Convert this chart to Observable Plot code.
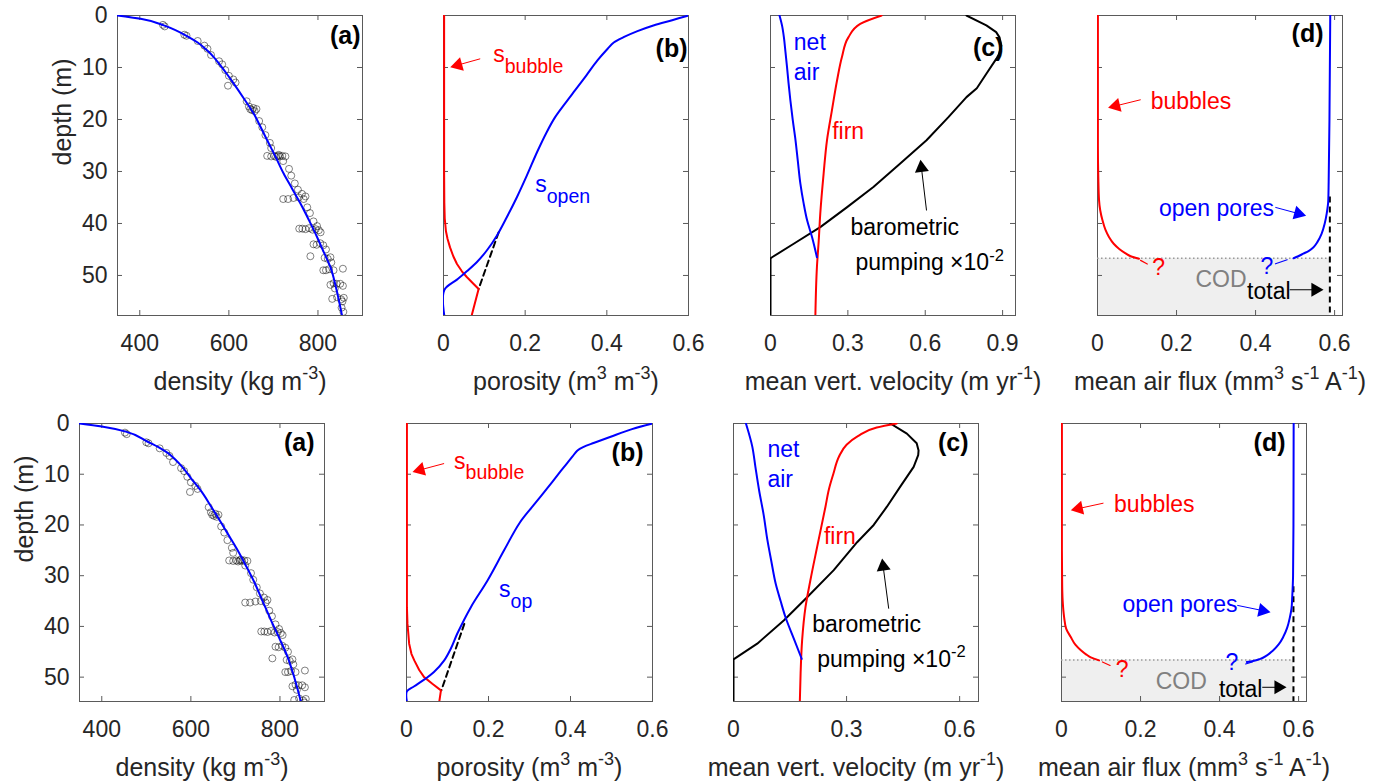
<!DOCTYPE html>
<html><head><meta charset="utf-8">
<script src="https://cdn.jsdelivr.net/npm/d3@7"></script>
<script src="https://cdn.jsdelivr.net/npm/@observablehq/plot@0.6"></script>
<style>
body{margin:0;background:#fff;}
#root{position:relative;width:1391px;height:784px;overflow:hidden;background:#fff;}
.panel{position:absolute;}
</style></head><body><div id="root"></div>
<script>
// ---------------- DATA ----------------
// measured density points [density kg m-3, depth m]
const densityObs = [
 [452,1.8],[456,2.1],[500,3.7],[505,3.9],[530,4.9],[545,5.8],[552,6.4],[560,7.6],[578,8.8],[585,9.4],
 [592,10.5],[600,11.6],[610,12.3],[615,12.9],[598,13.5],[640,16.5],[645,17.5],[648,18.0],[652,18.2],
 [658,18.4],[662,18.0],[655,17.8],[668,20.3],[675,21.5],[682,23.0],[692,24.5],[695,25.5],
 [686,27.0],[695,27.1],[702,27.0],[706,27.2],[710,27.0],[715,27.1],[720,27.0],[727,27.1],[712,26.8],[722,28.0],
 [735,29.5],[740,30.8],[748,32.3],[755,33.5],
 [722,35.3],[733,35.3],[745,35.1],[757,35.0],[768,35.3],[772,34.8],[764,34.3],
 [776,36.9],[782,38.0],[790,39.6],
 [758,41.0],[765,41.0],[772,41.1],[780,40.9],[788,41.2],[795,41.1],[802,41.3],[806,41.7],[798,40.5],
 [790,44.0],[797,44.1],[805,43.8],[812,44.2],[818,45.0],[783,46.3],
 [815,46.6],[822,46.8],[828,46.5],[830,47.5],
 [812,49.0],[818,49.0],[825,48.8],[835,49.0],[856,48.7],
 [828,51.8],[835,51.5],[842,51.6],[850,51.6],[856,52.0],[838,52.5],
 [832,54.5],[843,54.2],[852,54.6],[858,54.3],[855,55.0],[853,56.2],[857,57.0]
];
const densityFitTop = [[350,0],[402,0.64],[454,1.9],[480,2.8],[506,3.95],[530,5.2],[551,6.7],[566,8.0],[581,9.6],[596,11.3],[611,13.1],[634,16.0],[656,18.9],[671,21.4],[686,24],[705,27.2],[723,30.4],[742,33.3],[761,36.2],[780,39.4],[798,42.6],[813,45.5],[828,48.4],[841,52.5],[854,57.7]];
const densityFitBottom = [[350,0],[400,0.6],[454,1.6],[503,3.6],[530,4.8],[548,5.8],[565,7.1],[581,8.6],[602,11],[622,13.2],[645,16.3],[667,19.4],[686,22.2],[705,25],[724,28.1],[742,31.2],[761,35],[780,38.8],[799,42.4],[817,46],[833,50.3],[847,54.8]];

// porosity [m3 m-3, depth]
const sOpenTop = [[0.6,0],[0.56,0.9],[0.514,1.92],[0.475,3.0],[0.441,4.17],[0.417,5.2],[0.402,6.4],[0.377,8.65],[0.35,11.5],[0.322,14.4],[0.298,16.9],[0.273,19.6],[0.253,22.4],[0.229,26.3],[0.204,30.8],[0.18,34.9],[0.155,38.8],[0.131,42.3],[0.106,45.2],[0.082,47.4],[0.057,49.2],[0.033,50.8],[0.002,52.8],[0.002,57.7]];
const sBubbleTop = [[0.0015,0],[0.0015,30],[0.002,36],[0.003,39],[0.006,41.5],[0.01,43],[0.016,44.6],[0.024,46.3],[0.033,47.8],[0.045,49.2],[0.057,50.3],[0.072,51.5],[0.086,52.6],[0.069,57.7]];
const sOpenExtrapTop = [[0.135,41.7],[0.086,52.6]];
const sOpenBottom = [[0.6,0],[0.55,1.1],[0.498,2.6],[0.458,3.8],[0.432,4.6],[0.417,5.3],[0.405,6.5],[0.39,8.0],[0.376,9.4],[0.343,12.8],[0.31,16.1],[0.275,19.7],[0.238,25],[0.198,30.9],[0.157,36.2],[0.124,41.4],[0.108,44.4],[0.092,46.7],[0.067,49],[0.043,50.5],[0.019,51.8],[0.001,52.8],[0.001,54.8]];
const sBubbleBottom = [[0.001,0],[0.001,36.2],[0.0024,39.5],[0.0065,43.4],[0.012,45.4],[0.019,46.7],[0.031,48.6],[0.043,50],[0.063,51.3],[0.084,52.6],[0.08,54.8]];
const sOpenExtrapBottom = [[0.141,39.5],[0.085,52.6]];

// mean vertical velocity [m yr-1, depth]
const baroTop = [[0.76,0],[0.837,1.9],[0.875,3.2],[0.888,4.2],[0.895,5.8],[0.885,7.5],[0.876,8.3],[0.837,11.2],[0.8,14],[0.76,15.7],[0.689,19.6],[0.605,24],[0.502,28.5],[0.399,33],[0.296,36.9],[0.193,40.7],[0.09,43.9],[0.006,46.5],[0,46.7],[0,57.7]];
const firnTop = [[0.431,0],[0.348,1.6],[0.302,4.2],[0.277,8.0],[0.258,12.5],[0.238,18.3],[0.219,24],[0.206,30.4],[0.193,38.1],[0.187,43.3],[0.18,48.4],[0.174,57.7]];
const netAirTop = [[0.035,0],[0.045,2],[0.052,4.2],[0.058,7],[0.064,9.9],[0.07,13],[0.077,16.3],[0.086,20],[0.097,24],[0.106,28],[0.116,32.4],[0.128,36],[0.142,39.4],[0.161,42.6],[0.18,46.5]];
const baroBottom = [[0.416,0],[0.46,2],[0.486,3.9],[0.491,5.3],[0.49,6.25],[0.478,8.55],[0.442,12.5],[0.407,16.4],[0.372,20],[0.328,23.4],[0.266,28.9],[0.196,34.2],[0.134,38.8],[0.063,43.4],[0.002,46.4],[0,46.5],[0,54.8]];
const firnBottom = [[0.433,0],[0.38,0.8],[0.33,2.5],[0.3,4.2],[0.28,6.5],[0.265,9.9],[0.253,13],[0.244,16.4],[0.222,24.3],[0.204,30.9],[0.191,36.2],[0.182,42.8],[0.178,49.3],[0.176,54.8]];
const netAirBottom = [[0.033,0],[0.05,4.6],[0.058,8.5],[0.068,13.2],[0.08,18],[0.09,23],[0.1,27],[0.112,31.6],[0.125,35],[0.138,38.2],[0.16,42.4],[0.181,46.4]];

// mean air flux [mm3 s-1 A-1, depth]
const bubbleFluxTop = [[0.001,0],[0.001,25],[0.002,31],[0.004,35.6],[0.007,37.5],[0.0126,39.4],[0.02,41.2],[0.029,42.6],[0.041,43.9],[0.055,44.9],[0.07,45.7],[0.084,46.3],[0.105,46.8]];
const openFluxTop = [[0.589,0],[0.587,20],[0.585,32],[0.584,35.6],[0.58,38.1],[0.575,40],[0.567,42],[0.557,43.5],[0.546,44.6],[0.534,45.3],[0.521,45.8],[0.508,46.3],[0.496,46.7]];
const bubbleFluxBottom = [[0.001,0],[0.001,25],[0.0015,30],[0.002,33],[0.003,35],[0.0067,38.2],[0.012,40.5],[0.0235,42.1],[0.035,43.6],[0.049,44.7],[0.062,45.5],[0.074,46.1],[0.095,46.7]];
const openFluxBottom = [[0.5875,0],[0.587,20],[0.586,30],[0.584,34],[0.582,36.5],[0.578,38.2],[0.571,40.3],[0.561,42.1],[0.55,43.5],[0.536,44.7],[0.52,45.7],[0.503,46.4],[0.485,46.8],[0.469,47.0]];
const totalFluxTop = 0.588, totalDashStartTop = 34.9, codDepthTop = 46.7;
const totalFluxBottom = 0.587, totalDashStartBottom = 32.2, codDepthBottom = 46.6;

// ticks
const depthTicks = [0,10,20,30,40,50];
const densityTicks = [400,600,800];
const porosityTicks = [0,0.2,0.4,0.6];
const velTicksTop = [0,0.3,0.6,0.9];
const velTicksBottom = [0,0.3,0.6];
const fluxTicks = [0,0.2,0.4,0.6];

// labels
const xLabels = {
  a: "density (kg m^{-3})",
  b: "porosity (m^{3} m^{-3})",
  c: "mean vert. velocity (m yr^{-1})",
  d: "mean air flux (mm^{3} s^{-1} A^{-1})"
};
const yLabel = "depth (m)";

// ---------------- RENDER ----------------
const FONT = "'Liberation Sans', Arial, Helvetica, sans-serif";
const AXC = "#262626", FRAMEC = "#5a5a5a";
const BLUE = "#0000ff", RED = "#ff0000";
const root = document.getElementById("root");

function richify(svg) {
  for (const t of svg.querySelectorAll("text")) {
    const s = t.textContent;
    if (!/[\^_]\{/.test(s)) continue;
    const parts = [];
    const re = /([\^_])\{([^}]*)\}/g;
    let last = 0, m;
    while ((m = re.exec(s))) {
      if (m.index > last) parts.push({k: "n", s: s.slice(last, m.index)});
      parts.push({k: m[1], s: m[2]});
      last = re.lastIndex;
    }
    if (last < s.length) parts.push({k: "n", s: s.slice(last)});
    t.textContent = "";
    let shift = 0;
    for (const p of parts) {
      const ts = document.createElementNS("http://www.w3.org/2000/svg", "tspan");
      ts.textContent = p.s;
      let target = 0, scale = 1;
      if (p.k === "^") { target = -0.42; scale = 0.72; }
      else if (p.k === "_") { target = 0.46; scale = 0.85; }
      const d = target - shift;
      if (d !== 0) ts.setAttribute("dy", (d / scale).toFixed(3) + "em");
      if (scale !== 1) ts.setAttribute("font-size", (scale * 100) + "%");
      shift = target;
      t.appendChild(ts);
    }
  }
}

const P = (d) => d[0], Q = (d) => d[1];

function buildPanel(spec) {
  const [L, T, R, B] = spec.frame;
  const W = R - L, H = B - T;
  const ml = 100, mr = 40, mt = 20, mb = 90;
  const [x0, x1] = spec.xDomain, ymax = spec.yMax;
  const toPx = (x, y) => [(x - x0) / (x1 - x0) * W, y / ymax * H];
  const fromPx = (px, py) => [x0 + px / W * (x1 - x0), py / H * ymax];
  const arrows = (list, color) => {
    const shafts = [], heads = [];
    const r = 5.2, tipOff = 1.555 * r, hh = 2.333 * r;
    for (const a of list) {
      const [p1x, p1y] = toPx(a[0], a[1]), [p2x, p2y] = toPx(a[2], a[3]);
      const len = Math.hypot(p2x - p1x, p2y - p1y), ux = (p2x - p1x) / len, uy = (p2y - p1y) / len;
      const [sx, sy] = fromPx(p2x - ux * hh * 0.8, p2y - uy * hh * 0.8);
      const [hx, hy] = fromPx(p2x - ux * tipOff, p2y - uy * tipOff);
      shafts.push({x1: a[0], y1: a[1], x2: sx, y2: sy});
      heads.push({x: hx, y: hy, rot: Math.atan2(ux, -uy) * 180 / Math.PI});
    }
    return [
      Plot.link(shafts, {x1: "x1", y1: "y1", x2: "x2", y2: "y2", stroke: color, strokeWidth: 1}),
      Plot.dot(heads, {x: "x", y: "y", rotate: "rot", symbol: "triangle", r, fill: color, stroke: "none"})
    ];
  };
  const txt = (x, y, s, color, extra = {}) =>
    Plot.text([{x, y, s}], {x: "x", y: "y", text: "s", textAnchor: "start", lineAnchor: "bottom", fill: color, fontSize: 23, ...extra});
  const line = (data, color, extra = {}) =>
    Plot.line(data, {x: P, y: Q, stroke: color, strokeWidth: 2, curve: "monotone-y", clip: true, ...extra});

  const marks = [];
  if (spec.under) marks.push(...spec.under());
  marks.push(
    Plot.frame({stroke: FRAMEC, strokeWidth: 1}),
    Plot.tickX(spec.xTicks, {x: (d) => d, insetTop: H - 5, stroke: FRAMEC}),
    Plot.tickX(spec.xTicks, {x: (d) => d, insetBottom: H - 5, stroke: FRAMEC}),
    Plot.tickY(depthTicks, {y: (d) => d, insetRight: W - 5, stroke: FRAMEC}),
    Plot.tickY(depthTicks, {y: (d) => d, insetLeft: W - 5, stroke: FRAMEC}),
    Plot.axisX(spec.xTicks, {tickSize: 0, tickPadding: 19, fontSize: 23, label: null, tickFormat: (d) => String(d), fill: AXC}),
    Plot.text([spec.xLabel], {frameAnchor: "bottom", lineAnchor: "bottom", dy: 74, fontSize: 25, fill: AXC})
  );
  if (spec.yAxis) {
    marks.push(
      Plot.axisY(depthTicks, {tickSize: 0, tickPadding: 10, fontSize: 23, label: null, tickFormat: (d) => String(d), fill: AXC}),
      Plot.text([yLabel], {frameAnchor: "left", rotate: -90, dx: -55, lineAnchor: "middle", fontSize: 25, fill: AXC})
    );
  }
  marks.push(...spec.marks({line, txt, arrows}));
  marks.push(Plot.text([spec.tag], {frameAnchor: "top-right", textAnchor: "end", lineAnchor: "middle", dx: spec.tagDx, dy: spec.tagDy, fontSize: 25, fontWeight: "bold", fill: "#000"}));

  const svg = Plot.plot({
    width: ml + W + mr, height: mt + H + mb,
    marginLeft: ml, marginRight: mr, marginTop: mt, marginBottom: mb,
    x: {domain: spec.xDomain},
    y: {domain: [0, ymax], reverse: true, ...(spec.yAxis ? {} : {axis: null})},
    style: {fontFamily: FONT, fontSize: "23px", color: AXC, overflow: "visible", background: "transparent"},
    marks
  });
  richify(svg);
  const div = document.createElement("div");
  div.className = "panel";
  div.style.left = (L - ml) + "px";
  div.style.top = (T - mt) + "px";
  div.style.width = (ml + W + mr) + "px";
  div.appendChild(svg);
  root.appendChild(div);
}

const obsStyle = {x: P, y: Q, r: 3.5, stroke: "#000", strokeOpacity: 0.62, strokeWidth: 0.8, fill: "none", clip: true};

// ---- panel (a) ----
buildPanel({frame: [117, 15, 362, 315], xDomain: [350, 900], yMax: 57.7, xTicks: densityTicks, yAxis: true, xLabel: xLabels.a,
  tag: "(a)", tagDx: -2, tagDy: 20,
  marks: ({line}) => [Plot.dot(densityObs, obsStyle), line(densityFitTop, BLUE)]});
buildPanel({frame: [79, 423, 324, 701], xDomain: [350, 900], yMax: 54.8, xTicks: densityTicks, yAxis: true, xLabel: xLabels.a,
  tag: "(a)", tagDx: -10, tagDy: 19,
  marks: ({line}) => [Plot.dot(densityObs, obsStyle), line(densityFitBottom, BLUE)]});

// ---- panel (b) ----
buildPanel({frame: [443, 15, 688, 315], xDomain: [0, 0.6], yMax: 57.7, xTicks: porosityTicks, xLabel: xLabels.b,
  tag: "(b)", tagDx: -1, tagDy: 33,
  marks: ({line, txt, arrows}) => [
    line(sOpenExtrapTop, "#000", {strokeDasharray: "6,4", curve: "linear"}),
    line(sBubbleTop, RED, {curve: "linear"}),
    line(sOpenTop, BLUE, {curve: "catmull-rom"}),
    ...arrows([[0.0899, 8.33, 0.0165, 9.94]], RED),
    txt(0.1216, 8.98, "s_{bubble}", RED),
    txt(0.2246, 34.0, "s_{open}", BLUE)
  ]});
buildPanel({frame: [406, 423, 652, 701], xDomain: [0, 0.6], yMax: 54.8, xTicks: porosityTicks, xLabel: xLabels.b,
  tag: "(b)", tagDx: -9, tagDy: 29,
  marks: ({line, txt, arrows}) => [
    line(sOpenExtrapBottom, "#000", {strokeDasharray: "6,4", curve: "linear"}),
    line(sBubbleBottom, RED, {curve: "linear"}),
    line(sOpenBottom, BLUE, {curve: "catmull-rom"}),
    ...arrows([[0.0917, 7.89, 0.0146, 9.55]], RED),
    txt(0.1161, 8.88, "s_{bubble}", RED),
    txt(0.2259, 34.2, "s_{op}", BLUE)
  ]});

// ---- panel (c) ----
buildPanel({frame: [770, 15, 1015, 315], xDomain: [0, 0.95], yMax: 57.7, xTicks: velTicksTop, xLabel: xLabels.c,
  tag: "(c)", tagDx: -12, tagDy: 32.5,
  marks: ({line, txt, arrows}) => [
    line(baroTop, "#000", {curve: "linear"}),
    line(firnTop, RED),
    line(netAirTop, BLUE),
    txt(0.0904, 6.73, "net", BLUE),
    txt(0.0904, 12.5, "air", BLUE),
    txt(0.239, 23.7, "firn", RED),
    txt(0.310, 42.3, "barometric", "#000"),
    txt(0.3296, 49.0, "pumping ×10^{-2}", "#000"),
    ...arrows([[0.605, 37.5, 0.5816, 27.75]], "#000")
  ]});
buildPanel({frame: [733, 423, 978, 701], xDomain: [0, 0.65], yMax: 54.8, xTicks: velTicksBottom, xLabel: xLabels.c,
  tag: "(c)", tagDx: -10, tagDy: 19,
  marks: ({line, txt, arrows}) => [
    line(baroBottom, "#000", {curve: "linear"}),
    line(firnBottom, RED),
    line(netAirBottom, BLUE),
    txt(0.09, 6.59, "net", BLUE),
    txt(0.09, 12.5, "air", BLUE),
    txt(0.2398, 23.7, "firn", RED),
    txt(0.209, 41.1, "barometric", "#000"),
    txt(0.2223, 48.0, "pumping ×10^{-2}", "#000"),
    ...arrows([[0.4118, 36.5, 0.3943, 26.6]], "#000")
  ]});

// ---- panel (d) ----
function fluxPanel(frame, yMax, total, dashStart, cod, bub, open, ann, tagDx, tagDy) {
  buildPanel({frame, xDomain: [0, 0.62], yMax, xTicks: fluxTicks, xLabel: xLabels.d, tag: "(d)", tagDx, tagDy,
    under: () => [Plot.rect([{x1: 0, x2: total, y1: cod, y2: yMax}], {x1: "x1", x2: "x2", y1: "y1", y2: "y2", fill: "#efefef"})],
    marks: ({line, txt, arrows}) => [
      Plot.ruleY([cod], {x1: 0, x2: total, stroke: "#9a9a9a", strokeWidth: 1.5, strokeDasharray: "1.5,2.5"}),
      Plot.ruleX([total], {y1: dashStart, y2: yMax, stroke: "#000", strokeWidth: 2, strokeDasharray: "6,4"}),
      line(bub, RED),
      line(open, BLUE),
      line(ann.redSeg, RED, {strokeWidth: 1.2, curve: "linear"}),
      line(ann.blueSeg, BLUE, {strokeWidth: 1.2, curve: "linear"}),
      txt(ann.bubbles[0], ann.bubbles[1], "bubbles", RED),
      ...arrows([ann.bubArrow], RED),
      txt(ann.open[0], ann.open[1], "open pores", BLUE),
      ...arrows([ann.openArrow], BLUE),
      txt(ann.cod[0], ann.cod[1], "COD", "#808080"),
      txt(ann.total[0], ann.total[1], "total", "#000"),
      ...arrows([ann.totArrow], "#000"),
      txt(ann.qr[0], ann.qr[1], "?", RED),
      txt(ann.qb[0], ann.qb[1], "?", BLUE)
    ]});
}
fluxPanel([1097, 15, 1342, 315], 57.7, totalFluxTop, totalDashStartTop, codDepthTop, bubbleFluxTop, openFluxTop, {
  bubbles: [0.1346, 17.9], bubArrow: [0.1093, 16.2, 0.0268, 17.75],
  open: [0.1556, 38.5], openArrow: [0.450, 36.9, 0.528, 38.5],
  cod: [0.248, 52.2], total: [0.3786, 54.5], totArrow: [0.4862, 52.75, 0.572, 52.75],
  qr: [0.1388, 50], qb: [0.4123, 49.8],
  redSeg: [[0.109, 47.1], [0.126, 47.8]], blueSeg: [[0.4505, 47.75], [0.48, 46.98]]
}, -19, 18.5);
fluxPanel([1061, 423, 1306, 701], 54.8, totalFluxBottom, totalDashStartBottom, codDepthBottom, bubbleFluxBottom, openFluxBottom, {
  bubbles: [0.133, 17.4], bubArrow: [0.1062, 15.7, 0.0235, 17.1],
  open: [0.1542, 37.2], openArrow: [0.4448, 35.85, 0.529, 37.2],
  cod: [0.2383, 52.3], total: [0.3984, 54.0], totArrow: [0.508, 52.0, 0.5695, 52.0],
  qr: [0.1372, 50], qb: [0.4153, 48.5],
  redSeg: [[0.1036, 47.0], [0.1229, 47.7]], blueSeg: [[0.466, 47.4], [0.483, 47.0]]
}, -21, 19);
</script></body></html>
